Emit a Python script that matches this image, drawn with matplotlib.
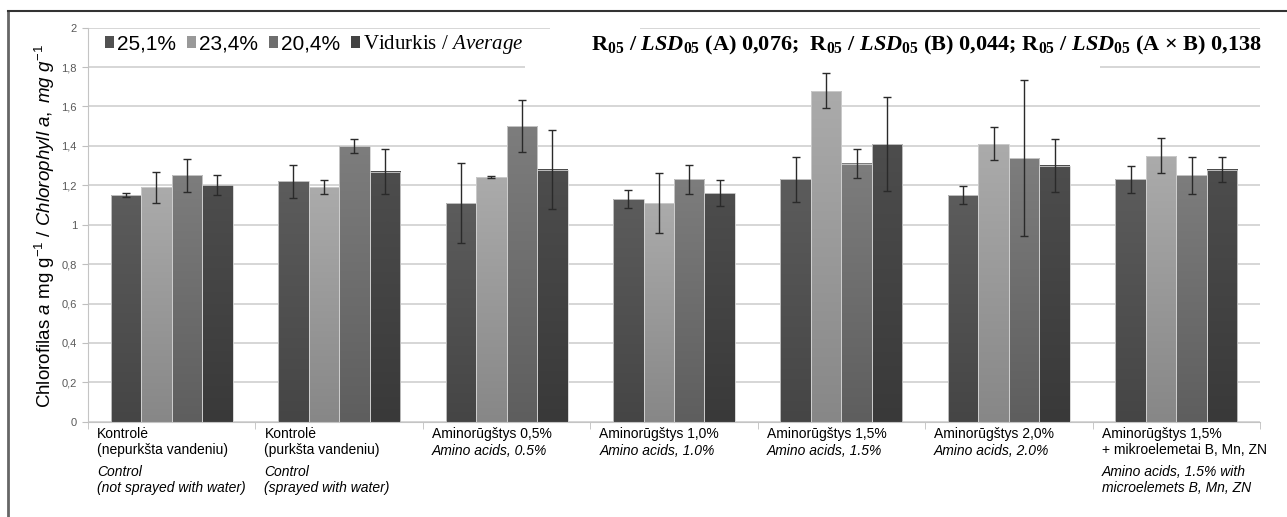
import numpy as np
import matplotlib.pyplot as plt
from matplotlib.patches import Patch, Rectangle
from matplotlib.lines import Line2D
from matplotlib.colors import LinearSegmentedColormap
from matplotlib.transforms import blended_transform_factory

plt.rcParams['font.family'] = ['Liberation Sans', 'DejaVu Sans']
plt.rcParams['mathtext.fontset'] = 'custom'
plt.rcParams['mathtext.rm'] = 'Liberation Sans'
plt.rcParams['mathtext.it'] = 'Liberation Sans:italic'
plt.rcParams['mathtext.bf'] = 'Liberation Serif:bold'
plt.rcParams['mathtext.bfit'] = 'Liberation Serif:italic:bold'
plt.rcParams['mathtext.sf'] = 'Liberation Serif:italic'

# grupės (lietuviškai / angliškai)
groups_lt = ['Kontrolė\n(nepurkšta vandeniu)', 'Kontrolė\n(purkšta vandeniu)',
             'Aminorūgštys 0,5%', 'Aminorūgštys 1,0%', 'Aminorūgštys 1,5%',
             'Aminorūgštys 2,0%', 'Aminorūgštys 1,5%\n+ mikroelemetai B, Mn, ZN']
groups_en = ['Control\n(not sprayed with water)', 'Control\n(sprayed with water)',
             'Amino acids, 0.5%', 'Amino acids, 1.0%', 'Amino acids, 1.5%',
             'Amino acids, 2.0%', 'Amino acids, 1.5% with\nmicroelemets B, Mn, ZN']
series = ['25,1%', '23,4%', '20,4%', 'Vidurkis / $\\mathsf{Average}$']

v251 = [1.15, 1.22, 1.11, 1.13, 1.23, 1.15, 1.23]
e251 = [0.01, 0.085, 0.205, 0.046, 0.114, 0.046, 0.07]
v234 = [1.19, 1.19, 1.24, 1.11, 1.68, 1.41, 1.35]
e234 = [0.08, 0.035, 0.005, 0.154, 0.09, 0.084, 0.089]
v204 = [1.25, 1.40, 1.50, 1.23, 1.31, 1.34, 1.25]
e204 = [0.085, 0.037, 0.133, 0.075, 0.074, 0.395, 0.095]
vavg = [1.20, 1.27, 1.28, 1.16, 1.41, 1.30, 1.28]
eavg = [0.05, 0.113, 0.20, 0.067, 0.24, 0.135, 0.064]

values = [v251, v234, v204, vavg]
errors = [e251, e234, e204, eavg]
# (apačia, viršus) spalvos gradientui
shades = [('#454545', '#5c5c5c'), ('#878787', '#ababab'),
          ('#5e5e5e', '#7d7d7d'), ('#393939', '#4d4d4d')]

W, H = 1287, 517
fig = plt.figure(figsize=(W / 100, H / 100), dpi=100)
ax = fig.add_axes([88 / W, 1 - 421.7 / H, 1172 / W, 394 / H])
ax.set_axisbelow(True)

x = np.arange(len(groups_lt))
bw = 0.182
grad = np.linspace(0, 1, 256).reshape(-1, 1)
for i, (vals, errs) in enumerate(zip(values, errors)):
    xs = x + (i - 1.5) * bw
    cmap = LinearSegmentedColormap.from_list('s%d' % i, shades[i])
    ax.bar(xs, vals, bw, color=shades[i][0], zorder=2)
    for xx, vv in zip(xs, vals):
        ax.imshow(grad, cmap=cmap, origin='lower', aspect='auto', zorder=2.5,
                  extent=[xx - bw / 2, xx + bw / 2, 0, vv], interpolation='bilinear')
    ax.bar(xs, vals, bw, fill=False, edgecolor='#d0d0d0', linewidth=0.6, zorder=3)
    ax.errorbar(xs, vals, yerr=errs, fmt='none', ecolor='#2a2a2a', elinewidth=1,
                capsize=3, capthick=1, zorder=4)

ax.set_xlim(-0.5, 6.5)
ax.set_ylim(0, 2)
yt = np.round(np.arange(0, 2.01, 0.2), 1)
ax.set_yticks(yt)
ax.set_yticklabels([('%g' % v).replace('.', ',') for v in yt], fontsize=8, color='#595959')
ax.set_xticks([])
ax.set_xticks(np.arange(-0.5, 7, 1), minor=True)
ax.tick_params(axis='x', which='minor', length=5, color='#bfbfbf')
ax.tick_params(axis='y', length=4, color='#bfbfbf', pad=4)
ax.yaxis.grid(True, color='#d0d0d0', linewidth=1.2)
for s in ['top', 'right']:
    ax.spines[s].set_visible(False)
for s in ['left', 'bottom']:
    ax.spines[s].set_color('#c4c4c4')

# baltos dėžutės, slepiančios tinklelio linijas po užrašais
ax.add_patch(Rectangle((525 / W, 1 - 74 / H), 575 / W, 14 / H, transform=fig.transFigure,
                       facecolor='white', edgecolor='none', zorder=1))
ax.add_patch(Rectangle((550 / W, 1 - 34 / H), 90 / W, 12 / H, transform=fig.transFigure,
                       facecolor='white', edgecolor='none', zorder=1))

# x ašies užrašai
tr = blended_transform_factory(ax.transData, fig.transFigure)
for k, (lt, en) in enumerate(zip(groups_lt, groups_en)):
    n = lt.count('\n') + 1
    xl = k - 0.5 + 0.054
    ax.text(xl, 1 - 427 / H, lt, transform=tr, ha='left', va='top', fontsize=10,
            linespacing=1.2)
    top_en = 427 + n * 17 + (4 if n == 2 else 0)
    ax.text(xl, 1 - top_en / H, en, transform=tr, ha='left', va='top', fontsize=10,
            style='italic', linespacing=1.2)

fig.text(45 / W, 1 - 226 / H,
         'Chlorofilas $a$ mg g$^{\\mathrm{-1}}$ / $\\mathit{Chlorophyll\\ a,\\ mg\\ g}^{\\mathit{-1}}$',
         rotation=90, ha='center', va='center', fontsize=13.5)

handles = [Patch(facecolor=np.mean([[int(c[j:j + 2], 16) for j in (1, 3, 5)] for c in sh], axis=0) / 255)
           for sh in shades]
leg = ax.legend(handles, series, ncol=4, loc='center left', frameon=False,
                bbox_to_anchor=(105 / W, 1 - 45 / H), bbox_transform=fig.transFigure,
                fontsize=15, handlelength=0.45, handleheight=0.45, handletextpad=0.15,
                columnspacing=0.5, borderaxespad=0, borderpad=0)
leg.get_texts()[3].set_fontfamily('Liberation Serif')

lsd = 'R$_{\\mathbf{05}}$ / $\\mathbfit{LSD}_{\\mathbf{05}}$'
fig.text(1262 / W, 1 - 45 / H,
         lsd + ' (A) 0,076;  ' + lsd + ' (B) 0,044; ' + lsd + ' (A × B) 0,138',
         ha='right', va='center', fontsize=16, family='Liberation Serif', weight='bold')

# rėmelis
fig.add_artist(Line2D([8 / W, 8 / W], [0, 1 - 11 / H], color='#666666', linewidth=2))
fig.add_artist(Line2D([8 / W, 1], [1 - 11 / H, 1 - 11 / H], color='#333333', linewidth=1.5))

fig.savefig('out.png', dpi=100)
